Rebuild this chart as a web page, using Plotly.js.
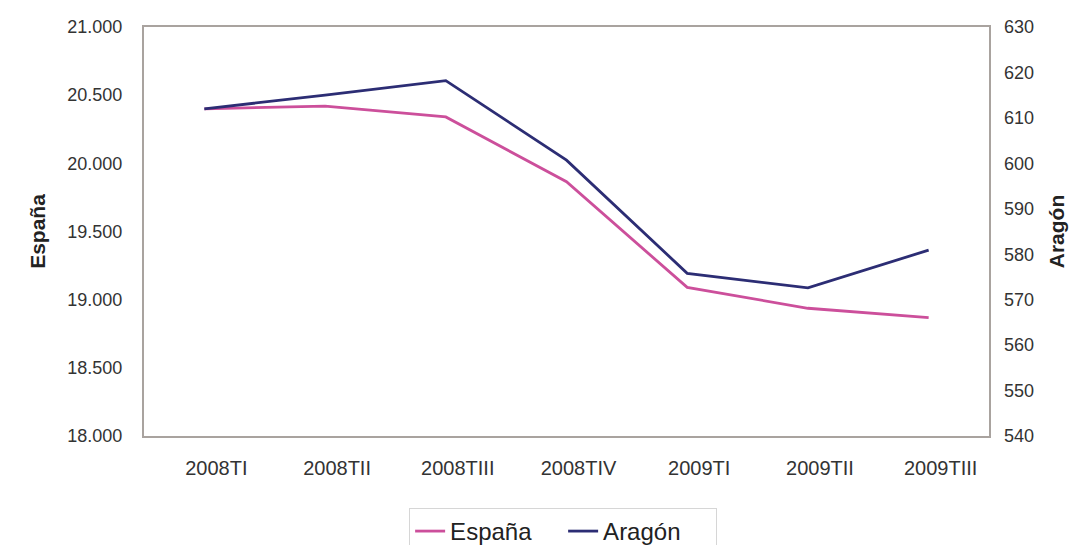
<!DOCTYPE html>
<html>
<head>
<meta charset="utf-8">
<script src="https://cdn.plot.ly/plotly-3.0.1.min.js"></script>
<style>
html,body{margin:0;padding:0;background:#fff;}
#chart{width:1071px;height:545px;}
</style>
</head>
<body>
<div id="chart"></div>
<script>
const categories = ["2008TI","2008TII","2008TIII","2008TIV","2009TI","2009TII","2009TIII"];
const espana = [20400, 20420, 20340, 19865, 19090, 18937, 18868];
const aragon = [612.0, 615.0, 618.2, 600.7, 575.8, 572.6, 580.9];
const leftTicks = [18000, 18500, 19000, 19500, 20000, 20500, 21000];
const rightTicks = [540, 550, 560, 570, 580, 590, 600, 610, 620, 630];

const fam = "Liberation Sans, Arial, sans-serif";
const tickFont = {family: fam, size: 18, color: "#333"};
const axisLine = "#a9a39f";

const traces = [
  {x: categories, y: espana, name: "España", type: "scatter", mode: "lines",
   line: {color: "#cc4f9b", width: 2.8}, yaxis: "y"},
  {x: categories, y: aragon, name: "Aragón", type: "scatter", mode: "lines",
   line: {color: "#2c2d74", width: 2.8}, yaxis: "y2"}
];

const layout = {
  width: 1071, height: 545,
  margin: {l: 144, r: 82, t: 27, b: 109, autoexpand: false},
  paper_bgcolor: "#fff", plot_bgcolor: "#fff",
  separators: ",.",
  showlegend: true,
  legend: {orientation: "h", x: 0.496, xanchor: "center", y: -0.176, yanchor: "top",
    bordercolor: "#d6d6d6", borderwidth: 1, bgcolor: "#fff",
    font: {family: fam, size: 24, color: "#222"},
    entrywidth: 108, entrywidthmode: "pixels",
    tracegroupgap: 0},
  xaxis: {type: "category", range: [-0.5, 6.5], showgrid: false, zeroline: false,
    automargin: false,
    showline: true, linecolor: axisLine, linewidth: 2, mirror: true,
    ticks: "", ticklabelstandoff: 13, ticklabelshift: 12,
    tickfont: {family: fam, size: 20, color: "#333"}},
  yaxis: {range: [18000, 21000], tickvals: leftTicks, tickformat: ",.0f",
    automargin: false,
    showgrid: false, zeroline: false,
    showline: true, linecolor: axisLine, linewidth: 2, mirror: true,
    ticks: "", ticklabelstandoff: 16,
    tickfont: tickFont,
    title: {text: "España", standoff: 16,
      font: {family: fam, size: 21, color: "#222", weight: "bold"}}},
  yaxis2: {range: [540, 630], tickvals: rightTicks, overlaying: "y", side: "right",
    automargin: false,
    showgrid: false, zeroline: false, showline: false,
    ticks: "", ticklabelstandoff: 14,
    tickfont: tickFont,
    title: {text: "Aragón", standoff: 16,
      font: {family: fam, size: 21, color: "#222", weight: "bold"}}}
};

Plotly.newPlot("chart", traces, layout, {displayModeBar: false, staticPlot: true});
</script>
</body>
</html>
